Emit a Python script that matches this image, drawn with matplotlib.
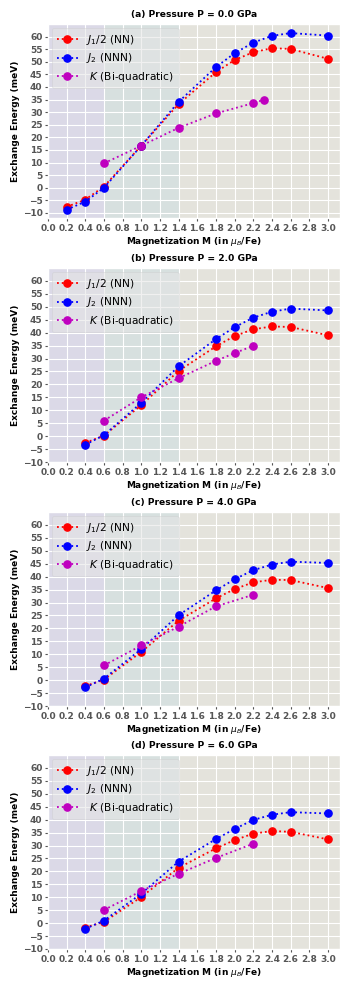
import matplotlib
matplotlib.use("Agg")
import matplotlib.pyplot as plt

plt.style.use('ggplot')

titles = ['(a) Pressure P = 0.0 GPa', '(b) Pressure P = 2.0 GPa',
          '(c) Pressure P = 4.0 GPa', '(d) Pressure P = 6.0 GPa']

# magnetization values (mu_B/Fe)
m_j_a = [0.2, 0.4, 0.6, 1.0, 1.4, 1.8, 2.0, 2.2, 2.4, 2.6, 3.0]
m_j = [0.4, 0.6, 1.0, 1.4, 1.8, 2.0, 2.2, 2.4, 2.6, 3.0]
m_k_a = [0.6, 1.0, 1.4, 1.8, 2.2, 2.31]
m_k_b = [0.6, 1.0, 1.4, 1.8, 2.0, 2.2]
m_k = [0.6, 1.0, 1.4, 1.8, 2.2]

# J1/2 (NN)
j1_a = [-7.6, -4.7, 0.5, 16.7, 33.2, 45.9, 50.7, 53.8, 55.4, 55.1, 51.2]
j1_b = [-2.6, 0.2, 12.0, 25.2, 34.7, 38.7, 41.3, 42.4, 42.2, 39.0]
j1_c = [-2.3, 0.2, 10.9, 23.0, 31.6, 35.2, 37.8, 38.8, 38.7, 35.6]
j1_d = [-1.7, 0.5, 10.1, 21.4, 28.9, 32.1, 34.6, 35.6, 35.3, 32.4]

# J2 (NNN)
j2_a = [-8.7, -5.5, 0.0, 16.7, 34.1, 47.9, 53.4, 57.6, 60.3, 61.4, 60.4]
j2_b = [-3.3, 0.4, 12.9, 27.0, 37.5, 42.1, 45.8, 48.1, 49.3, 48.6]
j2_c = [-2.8, 0.6, 12.0, 25.1, 34.7, 39.0, 42.5, 44.7, 45.8, 45.3]
j2_d = [-2.2, 1.0, 11.4, 23.8, 32.5, 36.4, 39.9, 41.9, 42.9, 42.4]

# K (bi-quadratic)
k_a = [9.7, 16.7, 23.8, 29.5, 33.6, 34.9]
k_b = [6.0, 15.0, 22.4, 29.1, 32.1, 34.9]
k_c = [5.7, 13.4, 20.7, 28.5, 33.0]
k_d = [5.1, 12.4, 19.1, 25.2, 30.7]

panels = [
    (m_j_a, j1_a, j2_a, m_k_a, k_a, -12),
    (m_j, j1_b, j2_b, m_k_b, k_b, -10),
    (m_j, j1_c, j2_c, m_k, k_c, -10),
    (m_j, j1_d, j2_d, m_k, k_d, -10),
]

xticks = [round(0.2 * i, 1) for i in range(16)]
yticks = list(range(-10, 61, 5))

fig = plt.figure(figsize=(3.53, 9.89), dpi=100)
fig.patch.set_facecolor('white')

tops = [24, 268, 512, 755]
for i, (mj, j1, j2, mk, kk, ybot) in enumerate(panels):
    ax = fig.add_axes([48 / 353, 1 - (tops[i] + 194) / 989, 292 / 353, 194 / 989])
    ax.axvspan(0.0, 0.6, color='#dbd9e7', zorder=0, lw=0)
    ax.axvspan(0.6, 1.4, color='#d7e0df', zorder=0, lw=0)
    ax.axvspan(1.4, 3.2, color='#e4e3dc', zorder=0, lw=0)
    ax.plot(mj, j1, ':o', color='red', ms=5.2, lw=1.3, label='$J_1/2$ (NN)', zorder=3)
    ax.plot(mj, j2, ':o', color='blue', ms=5.2, lw=1.3, label='$J_2$ (NNN)', zorder=3)
    ax.plot(mk, kk, ':o', color='m', ms=5.2, lw=1.3, label=' $K$ (Bi-quadratic)', zorder=3)
    ax.set_xlim(0, 3.13)
    ax.set_ylim(ybot, 65)
    ax.set_xticks(xticks)
    ax.set_yticks(yticks)
    ax.set_xticklabels(['%.1f' % t for t in xticks])
    ax.tick_params(labelsize=6.5, length=2.5, pad=1.5)
    for lab in ax.get_xticklabels() + ax.get_yticklabels():
        lab.set_fontweight('bold')
    ax.grid(True, color='white', lw=0.8)
    ax.set_axisbelow(True)
    ax.set_title(titles[i], fontsize=6.6, fontweight='bold', pad=5)
    ax.set_xlabel(r'Magnetization M (in $\mu_B$/Fe)', fontsize=6.5,
                  fontweight='bold', color='black', labelpad=2)
    ax.set_ylabel('Exchange Energy (meV)', fontsize=6.5, fontweight='bold',
                  color='black', labelpad=2)
    ax.legend(loc='upper left', fontsize=7.7, handlelength=2.0,
              borderaxespad=0.4, labelspacing=0.45, framealpha=0.55)

fig.savefig('out.png', dpi=100)
